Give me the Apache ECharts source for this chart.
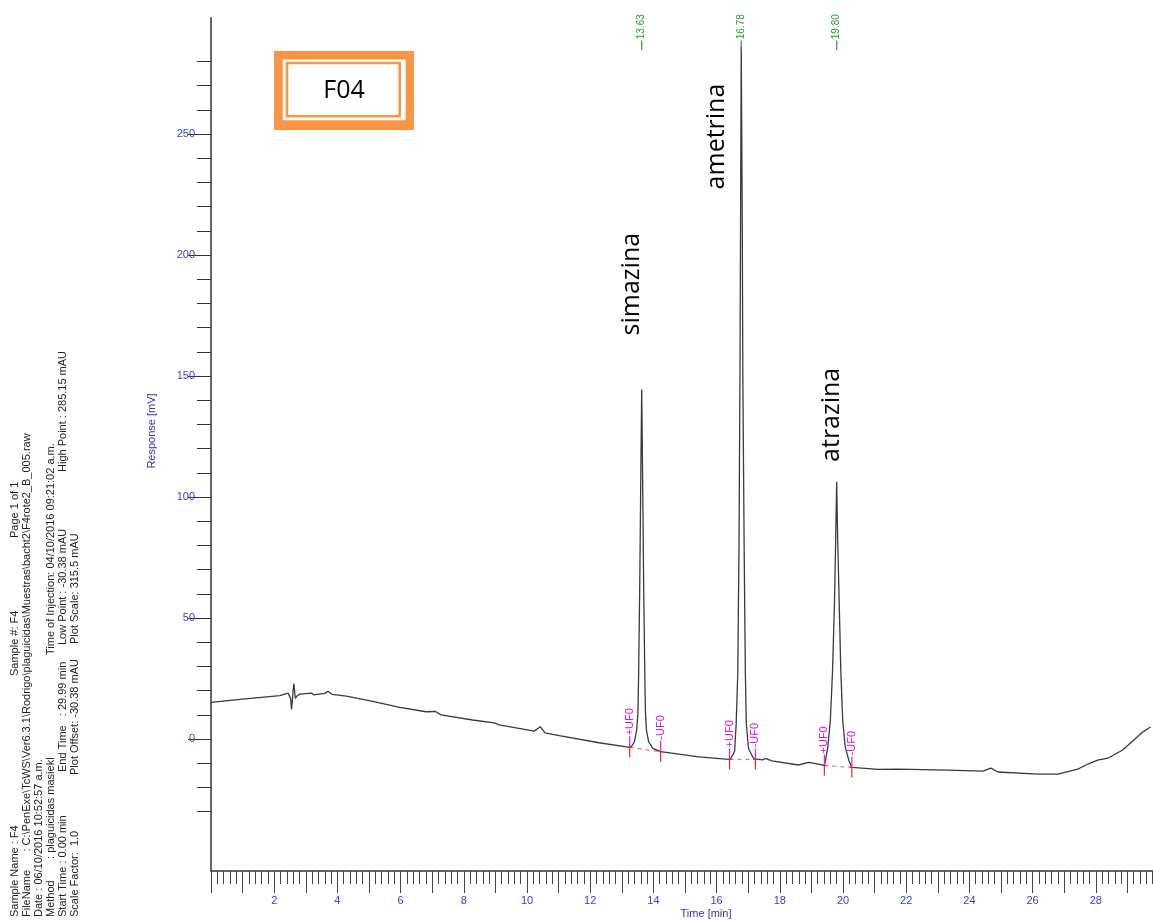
<!DOCTYPE html>
<html>
<head>
<meta charset="utf-8">
<script src="https://cdn.jsdelivr.net/npm/echarts@6/dist/echarts.min.js"></script>
<style>html,body{margin:0;padding:0;background:#fff;overflow:hidden;}#c{width:1162px;height:920px;}</style>
</head>
<body>
<div id="c"></div>
<script>
// ---- data ----
const traceTime = [0.00,0.92,2.18,2.44,2.52,2.55,2.62,2.67,2.72,2.81,3.18,3.25,3.60,3.70,3.83,4.28,5.12,5.97,6.81,7.10,7.28,8.28,8.96,9.12,10.23,10.42,10.57,11.02,12.28,13.25,13.32,13.40,13.47,13.51,13.53,13.57,13.60,13.63,13.66,13.69,13.73,13.75,13.78,13.85,13.98,14.23,15.44,16.38,16.45,16.57,16.62,16.67,16.71,16.74,16.76,16.78,16.81,16.83,16.87,16.91,16.94,17.01,17.18,17.23,17.45,17.54,17.75,18.59,18.91,19.22,19.41,19.45,19.52,19.60,19.67,19.73,19.77,19.80,19.83,19.88,19.93,19.99,20.07,20.19,20.28,21.12,21.75,23.33,24.43,24.68,24.90,26.17,26.80,27.43,27.75,28.06,28.38,28.85,29.17,29.48,29.73];
const traceValue = [15.2,16.4,18.0,19.0,16.8,12.3,23.0,16.8,17.8,18.6,19.0,18.3,18.9,19.8,18.5,17.8,15.6,13.1,11.3,11.4,10.0,7.9,6.7,5.9,3.3,5.1,2.6,1.4,-1.5,-3.4,-2.8,-1.1,3.7,10.7,24.4,65.7,107,144.5,107,65.7,24.4,10.7,3.7,-1.1,-3.8,-5.2,-7.3,-8.4,-8.0,-5.0,6.5,27,82,151,220,286,220,151,82,27,6.5,-4.0,-8.2,-8.4,-8.6,-8.0,-9.0,-10.7,-9.6,-10.3,-10.9,-8.5,-3.2,7.9,28.5,56.1,83.6,106.3,83.6,56.1,28.5,7.9,-3.2,-9.0,-11.7,-12.5,-12.4,-12.8,-13.2,-12.0,-13.6,-14.5,-14.5,-12.4,-10.3,-8.7,-7.9,-4.5,-0.8,2.9,5.0];

const peakTimes = [13.63, 16.78, 19.80];
const peakLabels = ['13.63', '16.78', '19.80'];

const compoundNames = ['simazina', 'ametrina', 'atrazina'];
const compoundLabelTime = [13.32, 16.01, 19.65];
const compoundLabelValue = [188, 249, 134];

const markerTimes = [13.25, 14.23, 16.41, 17.23, 19.41, 20.28];
const markerValues = [-3.4, -5.2, -8.4, -8.4, -10.9, -11.7];
const markerTexts = ['+UF0', '-UF0', '+UF0', '-UF0', '+UF0', '-UF0'];

const baselineStartTime = [13.25, 16.41, 19.41];
const baselineStartValue = [-3.4, -8.4, -10.9];
const baselineEndTime = [14.23, 17.23, 20.28];
const baselineEndValue = [-5.2, -8.4, -11.7];

const xTickLabels = [2, 4, 6, 8, 10, 12, 14, 16, 18, 20, 22, 24, 26, 28];
const yTickLabels = [0, 50, 100, 150, 200, 250];

const infoLines = [
  ['Sample Name : F4', 'Sample #: F4', 'Page 1 of 1'],
  ['FileName      : C:\\PenExe\\TcWS\\Ver6.3.1\\Rodrigo\\plaguicidas\\Muestras\\bacht2\\F4rote2_B_005.raw'],
  ['Date : 06/10/2016 10:52:57 a.m.'],
  ['Method       : plaguicidas masiekl', 'Time of Injection: 04/10/2016 09:21:02 a.m.'],
  ['Start Time : 0.00 min', 'End Time   : 29.99 min', 'Low Point : -30.38 mAU', 'High Point : 285.15 mAU'],
  ['Scale Factor:  1.0', 'Plot Offset: -30.38 mAU', 'Plot Scale: 315.5 mAU']
];
const infoStarts = [
  [917, 676, 538],
  [917],
  [917],
  [917, 655],
  [917, 772, 645, 472],
  [917, 775, 644]
];
const infoLineX = [15, 27, 39, 51, 63, 75];

// ---- build ----
const trace = traceTime.map((t, i) => [t, traceValue[i]]);
const baselines = [];
baselineStartTime.forEach((t, i) => {
  baselines.push([t, baselineStartValue[i]]);
  baselines.push([baselineEndTime[i], baselineEndValue[i]]);
  baselines.push([null, null]);
});
const markers = markerTimes.map((t, i) => [t, markerValues[i], i]);
const compounds = compoundLabelTime.map((t, i) => [t, compoundLabelValue[i], i]);
const peaks = peakTimes.map((t, i) => [t, 0, i]);

const labelFont = '"Liberation Sans", Arial, sans-serif';
const axisBlue = '#3c3cc8';

const graphics = [];
infoLines.forEach((segs, li) => {
  segs.forEach((s, si) => {
    graphics.push({
      type: 'text', x: infoLineX[li], y: infoStarts[li][si], rotation: Math.PI / 2,
      style: { text: s, fill: '#222', font: '11px ' + labelFont, align: 'left', verticalAlign: 'middle' }
    });
  });
});
// F04 box
graphics.push({ type: 'rect', shape: { x: 274, y: 51, width: 140, height: 79 }, style: { fill: '#F79646' } });
graphics.push({ type: 'rect', shape: { x: 282.7, y: 59.5, width: 123, height: 60.7 }, style: { fill: '#fff' } });
graphics.push({ type: 'rect', shape: { x: 287, y: 63, width: 112.7, height: 53.2 }, style: { fill: '#fff', stroke: '#F79646', lineWidth: 2.6 } });
graphics.push({ type: 'text', x: 344, y: 91, style: { text: 'F04', fill: '#000', font: '25px "Open Sans", sans-serif', align: 'center', verticalAlign: 'middle' } });
// axis names
graphics.push({ type: 'text', x: 706, y: 914, style: { text: 'Time [min]', fill: '#3535a8', font: '11px ' + labelFont, align: 'center', verticalAlign: 'middle' } });
graphics.push({ type: 'text', x: 152, y: 431, rotation: Math.PI / 2, style: { text: 'Response [mV]', fill: '#3535a8', font: '11px ' + labelFont, align: 'center', verticalAlign: 'middle' } });

const gridL = 211, gridR = 0.6;
const option = {
  animation: false,
  backgroundColor: '#ffffff',
  grid: [
    { left: gridL, right: gridR, top: 17.7, bottom: 49 },
    { left: gridL, right: gridR, top: 61.4, bottom: 108.4 },
    { left: gridL, right: gridR, top: 134, bottom: 181 }
  ],
  xAxis: [
    {
      gridIndex: 0, type: 'value', min: 0, max: 30, interval: 1,
      axisLine: { onZero: false, lineStyle: { color: '#333', width: 1.5 } },
      axisTick: { length: 22, lineStyle: { color: '#444', width: 1 } },
      minorTick: { show: true, splitNumber: 5, length: 13, lineStyle: { color: '#444', width: 1 } },
      axisLabel: {
        margin: 24, color: axisBlue, fontSize: 11, fontFamily: labelFont,
        formatter: v => xTickLabels.indexOf(v) >= 0 ? String(v) : ''
      },
      splitLine: { show: false }, minorSplitLine: { show: false }
    },
    { gridIndex: 1, type: 'value', min: 0, max: 30, show: false },
    { gridIndex: 2, type: 'value', min: 0, max: 30, show: false }
  ],
  yAxis: [
    {
      gridIndex: 0, type: 'value', min: -54.5, max: 298.1,
      axisLine: { show: true, onZero: false, lineStyle: { color: '#333', width: 1.5 } },
      axisTick: { show: false }, axisLabel: { show: false }, splitLine: { show: false }
    },
    {
      gridIndex: 1, type: 'value', min: -30, max: 280, interval: 10,
      axisLine: { show: false, onZero: false },
      axisTick: { show: true, length: 14, lineStyle: { color: '#333', width: 1 } },
      axisLabel: { show: false }, splitLine: { show: false }
    },
    {
      gridIndex: 2, type: 'value', min: 0, max: 250, interval: 50,
      axisLine: { show: false, onZero: false },
      axisTick: { show: true, length: 23, lineStyle: { color: '#333', width: 1 } },
      axisLabel: {
        margin: 16, color: axisBlue, fontSize: 11, fontFamily: labelFont,
        formatter: v => yTickLabels.indexOf(v) >= 0 ? String(v) : ''
      },
      splitLine: { show: false }
    }
  ],
  series: [
    {
      type: 'line', xAxisIndex: 0, yAxisIndex: 0, data: baselines, showSymbol: false, symbol: 'none',
      connectNulls: false, lineStyle: { color: '#f07878', width: 1.3, type: [4, 4] }, z: 2
    },
    {
      type: 'line', xAxisIndex: 0, yAxisIndex: 0, data: trace, showSymbol: false, symbol: 'none',
      lineStyle: { color: '#3a3a3a', width: 1.3 }, z: 3
    },
    {
      type: 'custom', xAxisIndex: 0, yAxisIndex: 0, data: markers, z: 4,
      renderItem: (params, api) => {
        const p = api.coord([api.value(0), api.value(1)]);
        const idx = api.value(2);
        return {
          type: 'group', children: [
            { type: 'line', shape: { x1: p[0], y1: p[1] - 11, x2: p[0], y2: p[1] }, style: { stroke: '#e020e0', lineWidth: 1.2 } },
            { type: 'line', shape: { x1: p[0], y1: p[1], x2: p[0], y2: p[1] + 10 }, style: { stroke: '#e02828', lineWidth: 1.2 } },
            { type: 'line', shape: { x1: p[0] - 2, y1: p[1], x2: p[0] + 2, y2: p[1] }, style: { stroke: '#e02828', lineWidth: 1 } },
            { type: 'text', x: p[0], y: p[1] - 12, rotation: Math.PI / 2,
              style: { text: markerTexts[idx], fill: '#e010e0', font: '11px ' + labelFont, align: 'left', verticalAlign: 'middle' } }
          ]
        };
      }
    },
    {
      type: 'custom', xAxisIndex: 0, yAxisIndex: 0, data: peaks, z: 4,
      renderItem: (params, api) => {
        const x = api.coord([api.value(0), 0])[0];
        const top = params.coordSys.y;
        const idx = api.value(2);
        return {
          type: 'group', children: [
            { type: 'line', shape: { x1: x, y1: top + 32.5, x2: x, y2: top + 23 }, style: { stroke: '#2a9a2a', lineWidth: 1.2 } },
            { type: 'text', x: x, y: top + 21.5, rotation: Math.PI / 2,
              style: { text: peakLabels[idx], fill: '#2a9a2a', font: '10px ' + labelFont, align: 'left', verticalAlign: 'middle' } }
          ]
        };
      }
    },
    {
      type: 'custom', xAxisIndex: 0, yAxisIndex: 0, data: compounds, z: 5,
      renderItem: (params, api) => {
        const p = api.coord([api.value(0), api.value(1)]);
        const idx = api.value(2);
        return {
          type: 'text', x: p[0], y: p[1], rotation: Math.PI / 2,
          style: { text: compoundNames[idx], fill: '#000', font: '25px "Open Sans", sans-serif', align: 'center', verticalAlign: 'middle' }
        };
      }
    }
  ],
  graphic: graphics
};
const chart = echarts.init(document.getElementById('c'), null, { renderer: 'canvas' });
chart.setOption(option);
</script>
</body>
</html>
